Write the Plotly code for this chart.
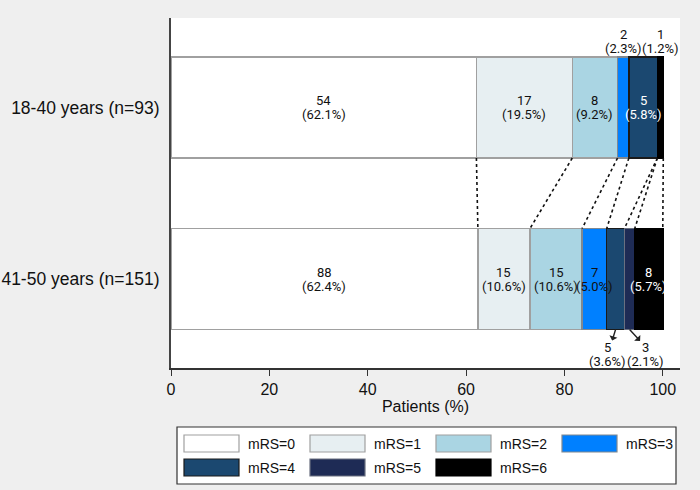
import plotly.graph_objects as go

# data
groups = ["18-40 years (n=93)", "41-50 years (n=151)"]
mrs_names = ["mRS=0", "mRS=1", "mRS=2", "mRS=3", "mRS=4", "mRS=5", "mRS=6"]
counts_young = [54, 17, 8, 2, 5, 0, 1]
pct_young = [62.1, 19.5, 9.2, 2.3, 5.8, 0.0, 1.2]
counts_old = [88, 15, 15, 7, 5, 3, 8]
pct_old = [62.4, 10.6, 10.6, 5.0, 3.6, 2.1, 5.7]

# style
fills = ["#ffffff", "#e7eff2", "#aad5e3", "#0080ff", "#1b4870", "#1e2b55", "#000000"]
edges = ["#a0a0a0", "#a0a0a0", "#a0a0a0", "#808890", "#1a1a1a", "#6a7080", "#000000"]
text_cols = ["#111", "#111", "#111", "#111", "#fff", "#fff", "#fff"]
# where each segment label sits: in / above / below (with arrow)
place_young = ["in", "in", "in", "above", "in", None, "above"]
place_old = ["in", "in", "in", "in", "below", "below", "in"]
arrow_off = {4: (-4, 13, -8), 5: (12, 13, 16)}   # ax, ay, text xshift

W = 0.589
Y_TOP, Y_BOT = 1, 0
FONT = "Liberation Sans, Arial, sans-serif"
LFONT = "Roboto, sans-serif"

fig = go.Figure()
for i, name in enumerate(mrs_names):
    fig.add_trace(go.Bar(
        x=[pct_young[i], pct_old[i]], y=[Y_TOP, Y_BOT], orientation="h",
        width=W, name=name, showlegend=False,
        marker=dict(color=fills[i], line=dict(color=edges[i], width=1.5)),
        hoverinfo="skip"))

# dotted connectors between cumulative boundaries
cum_y, cum_o = [], []
sy = so = 0
for i in range(len(mrs_names)):
    sy += pct_young[i]; so += pct_old[i]
    cum_y.append(sy); cum_o.append(so)
starts_y = [0] + cum_y[:-1]
starts_o = [0] + cum_o[:-1]

lx, ly = [], []
for a, b in zip(cum_y, cum_o):
    lx += [a, b, None]
    ly += [Y_TOP - W / 2, Y_BOT + W / 2, None]
fig.add_trace(go.Scatter(x=lx, y=ly, mode="lines", showlegend=False,
                         line=dict(color="#111", width=1.6, dash="3px,3px"),
                         hoverinfo="skip"))

ann = []


def label(x, y, cnt, pct, col, ys, xs=0):
    for t, dy in ((str(cnt), ys + 7), ("(%.1f%%)" % pct, ys - 7)):
        ann.append(dict(x=x, y=y, text=t, showarrow=False, xshift=xs, yshift=dy,
                        font=dict(family=LFONT, size=13, color=col),
                        xanchor="center", yanchor="middle"))


for yv, cnts, pcts, starts, places in ((Y_TOP, counts_young, pct_young, starts_y, place_young),
                                       (Y_BOT, counts_old, pct_old, starts_o, place_old)):
    for i in range(len(mrs_names)):
        p = places[i]
        if p is None:
            continue
        xc = starts[i] + pcts[i] / 2
        if p == "in":
            label(xc, yv, cnts[i], pcts[i], text_cols[i], 0)
        elif p == "above":
            label(xc, yv + W / 2, cnts[i], pcts[i], "#111", 16)
        else:
            ax, ay, xs = arrow_off[i]
            ann.append(dict(x=xc, y=yv - W / 2, text=" ", ax=ax, ay=ay,
                            showarrow=True, arrowside="start", arrowhead=2,
                            arrowsize=1, arrowwidth=1.4, arrowcolor="#222",
                            font=dict(size=1)))
            label(xc, yv - W / 2, cnts[i], pcts[i], "#111", -25, xs)

# hand-drawn legend box below the axis
L, R, T, B = 171, 680, 18, 368


def px(v):
    return (v - L) / (R - L)


def py(v):
    return (B - v) / (B - T)


shapes = [dict(type="rect", xref="paper", yref="paper", x0=px(177), x1=px(676),
               y0=py(427), y1=py(484), fillcolor="#ffffff",
               line=dict(color="#333", width=1.2))]
for i, name in enumerate(mrs_names):
    col, row = i % 4, i // 4
    x0 = 184 + 126 * col
    y0 = 435 + 24 * row
    shapes.append(dict(type="rect", xref="paper", yref="paper",
                       x0=px(x0), x1=px(x0 + 55), y0=py(y0), y1=py(y0 + 17),
                       fillcolor=fills[i], line=dict(color=edges[i], width=1.2)))
    ann.append(dict(xref="paper", yref="paper", x=px(x0 + 62), y=py(y0 + 8.5),
                    text=name, showarrow=False, xanchor="left", yanchor="middle",
                    font=dict(family=FONT, size=14, color="#111")))

fig.update_layout(
    barmode="stack", width=700, height=490,
    margin=dict(l=L, r=700 - R, t=T, b=490 - B),
    paper_bgcolor="#efefef", plot_bgcolor="#ffffff",
    font=dict(family=FONT, size=16, color="#111"),
    annotations=ann, shapes=shapes,
)
fig.update_xaxes(range=[0, 103.5], tickvals=[0, 20, 40, 60, 80, 100],
                 showgrid=False, zeroline=False, showline=True, linecolor="#333",
                 linewidth=1.5, ticks="outside", ticklen=6, tickcolor="#333",
                 tickwidth=1.2, tickfont=dict(size=16), automargin=False,
                 title=dict(text="Patients (%)", font=dict(size=16), standoff=0))
fig.update_yaxes(range=[-0.519, 1.522], tickvals=[Y_TOP, Y_BOT], ticktext=groups,
                 showgrid=False, zeroline=False, showline=True, linecolor="#444",
                 linewidth=2, ticks="outside", ticklen=6, automargin=False,
                 tickcolor="rgba(0,0,0,0)", tickfont=dict(size=17.5))

fig.write_html("out.html", config={"displayModeBar": False},
               post_script="document.body.style.margin='0';")
